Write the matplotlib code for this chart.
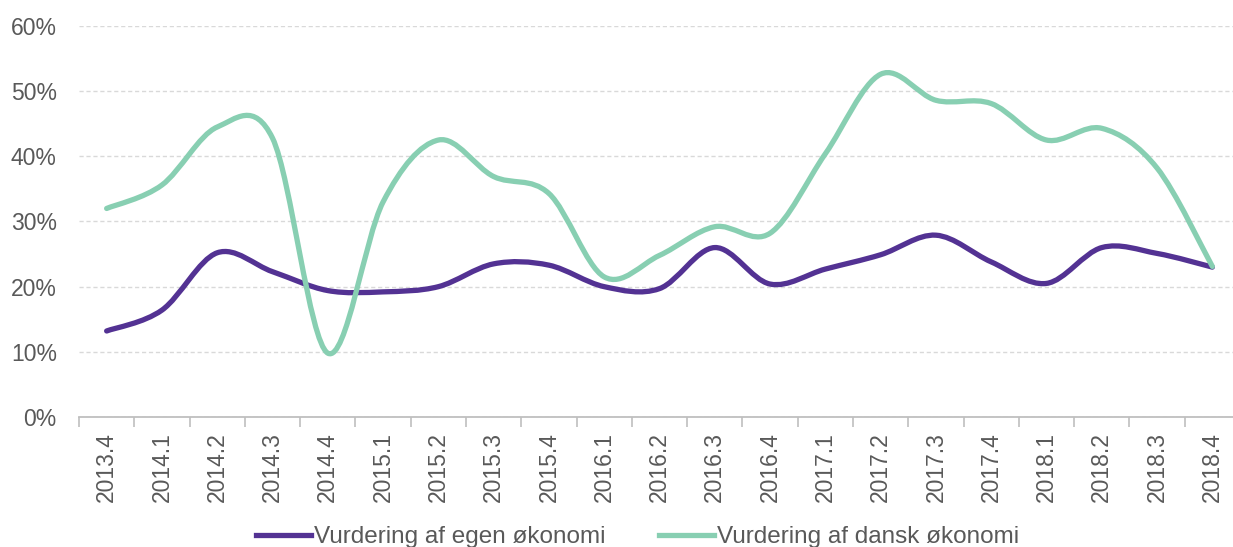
import matplotlib
matplotlib.use("Agg")
import matplotlib.pyplot as plt
import numpy as np
from matplotlib.path import Path
from matplotlib.patches import PathPatch
from matplotlib.lines import Line2D
from matplotlib.ticker import PercentFormatter, FixedLocator

plt.rcParams['font.family'] = ['Liberation Sans', 'DejaVu Sans']

categories = ["2013.4", "2014.1", "2014.2", "2014.3", "2014.4", "2015.1", "2015.2",
              "2015.3", "2015.4", "2016.1", "2016.2", "2016.3", "2016.4", "2017.1",
              "2017.2", "2017.3", "2017.4", "2018.1", "2018.2", "2018.3", "2018.4"]
egen = [13.2, 16.4, 25.2, 22.3, 19.4, 19.2, 20.0, 23.5, 23.3, 20.0, 19.7,
        26.0, 20.4, 22.7, 24.9, 27.9, 23.8, 20.5, 26.0, 25.1, 23.0]
dansk = [32.0, 35.6, 44.5, 42.8, 9.8, 33.0, 42.5, 36.9, 34.3, 21.5, 24.8,
         29.2, 28.2, 40.4, 52.6, 48.6, 48.1, 42.5, 44.3, 38.2, 23.1]
series_names = ["Vurdering af egen økonomi", "Vurdering af dansk økonomi"]
colors = ["#533293", "#88CFB2"]

W, H = 1233, 547
fig = plt.figure(figsize=(W / 100, H / 100), dpi=100)
ax = fig.add_axes([79 / W, 130 / H, (1240 - 79) / W, (521 - 130) / H])


def smooth_path(xs, ys):
    pts = np.column_stack([xs, ys]).astype(float)
    n = len(pts)
    verts = [pts[0]]
    codes = [Path.MOVETO]
    for i in range(n - 1):
        p0 = pts[i - 1] if i > 0 else pts[i]
        p1 = pts[i]
        p2 = pts[i + 1]
        p3 = pts[i + 2] if i + 2 < n else pts[i + 1]
        c1 = p1 + (p2 - p0) / 6.0
        c2 = p2 - (p3 - p1) / 6.0
        verts += [c1, c2, p2]
        codes += [Path.CURVE4] * 3
    return Path(verts, codes)


x = np.arange(len(categories))
for vals, col in zip([egen, dansk], colors):
    ys = np.array(vals) / 100.0
    patch = PathPatch(smooth_path(x, ys), facecolor='none', edgecolor=col,
                      lw=3.8, capstyle='round', joinstyle='round', zorder=3)
    ax.add_patch(patch)

ax.set_xlim(-0.5, len(categories) - 0.5)
ax.set_ylim(0, 0.6)
ax.yaxis.set_major_locator(FixedLocator(np.arange(0, 0.61, 0.1)))
ax.yaxis.set_major_formatter(PercentFormatter(1.0, decimals=0))
ax.grid(axis='y', color='#D9D9D9', linestyle=(0, (3, 2)), linewidth=1.0)
ax.set_axisbelow(True)

for s in ['top', 'right', 'left']:
    ax.spines[s].set_visible(False)
ax.spines['bottom'].set_color('#BFBFBF')
ax.spines['bottom'].set_linewidth(1.3)

ax.set_xticks(x)
ax.set_xticklabels(categories, rotation=90, fontsize=16.5, color='#595959')
ax.set_xticks(np.arange(-0.5, len(categories), 1.0), minor=True)
ax.tick_params(axis='x', which='major', length=0, pad=11)
ax.tick_params(axis='x', which='minor', length=7, color='#BFBFBF', width=1.2)
ax.tick_params(axis='y', length=0, pad=16, labelsize=16.5, labelcolor='#595959')

handles = [Line2D([0], [0], color=c, lw=3.8) for c in colors]
fig.legend(handles, series_names, loc='center', bbox_to_anchor=(0.517, 0.018),
           ncol=2, frameon=False, fontsize=17.5, handlelength=2.26,
           handletextpad=0.12, columnspacing=2.2, labelcolor='#595959')

fig.savefig("out.png", dpi=100)
